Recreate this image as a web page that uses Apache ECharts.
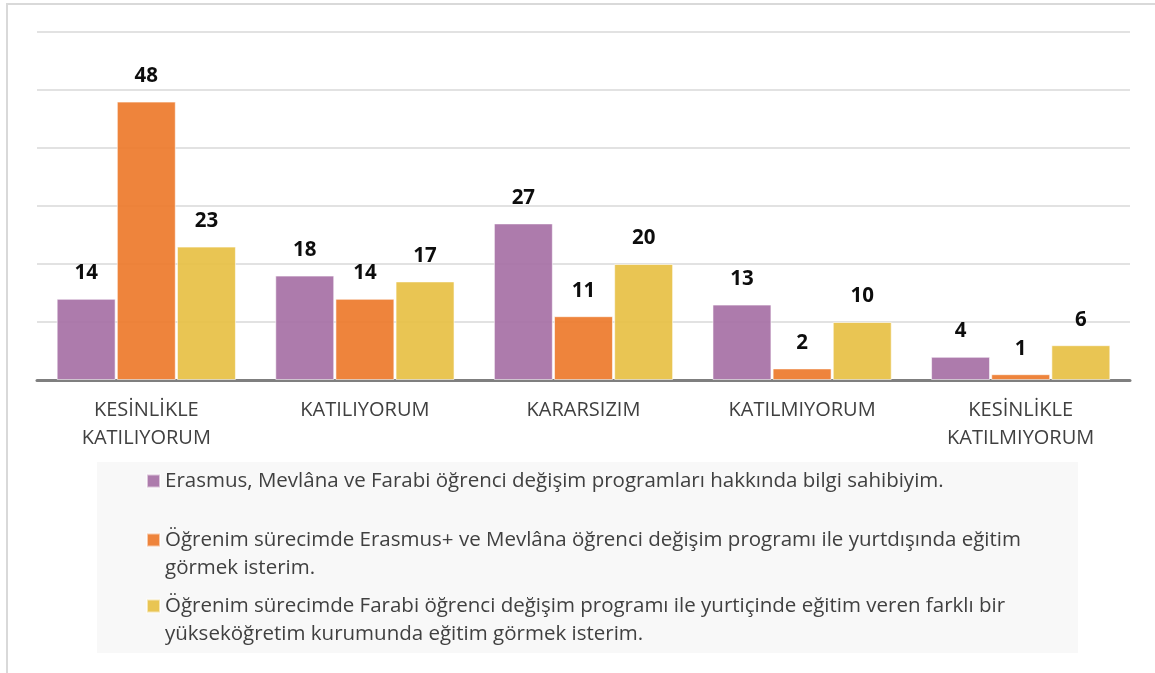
<!DOCTYPE html>
<html><head><meta charset="utf-8">
<script src="https://cdn.jsdelivr.net/npm/echarts@6/dist/echarts.min.js"></script>
<style>html,body{margin:0;padding:0;background:#fff}#c{width:1155px;height:673px}</style>
</head><body><div id="c"></div>
<script>
const categories = ['KESİNLİKLE\nKATILIYORUM', 'KATILIYORUM', 'KARARSIZIM', 'KATILMIYORUM', 'KESİNLİKLE\nKATILMIYORUM'];
const seriesNames = [
  'Erasmus, Mevlâna ve Farabi öğrenci değişim programları hakkında bilgi sahibiyim.',
  'Öğrenim sürecimde Erasmus+ ve Mevlâna öğrenci değişim programı ile yurtdışında eğitim görmek isterim.',
  'Öğrenim sürecimde Farabi öğrenci değişim programı ile yurtiçinde eğitim veren farklı bir yükseköğretim kurumunda eğitim görmek isterim.'
];
const legendLines = [
  ['Erasmus, Mevlâna ve Farabi öğrenci değişim programları hakkında bilgi sahibiyim.'],
  ['Öğrenim sürecimde Erasmus+ ve Mevlâna öğrenci değişim programı ile yurtdışında eğitim', 'görmek isterim.'],
  ['Öğrenim sürecimde Farabi öğrenci değişim programı ile yurtiçinde eğitim veren farklı bir', 'yükseköğretim kurumunda eğitim görmek isterim.']
];
const values1 = [14, 18, 27, 13, 4];
const values2 = [48, 14, 11, 2, 1];
const values3 = [23, 17, 20, 10, 6];
const colors = ['#A974A8', '#ED7D31', '#E8C24A'];
const yTicks = [0, 10, 20, 30, 40, 50, 60];

const font = '"Open Sans", "Noto Sans", sans-serif';
const chart = echarts.init(document.getElementById('c'));
const allValues = [values1, values2, values3];
const legendTops = [467, 498, 564];
chart.setOption({
  animation: false,
  textStyle: { fontFamily: font },
  graphic: [
    { type: 'rect', z: -10, shape: { x: 7, y: 4, width: 1300, height: 800 }, style: { fill: 'none', stroke: '#d9d9d9', lineWidth: 2 } },
    { type: 'rect', z: -9, shape: { x: 97, y: 462, width: 981, height: 191 }, style: { fill: '#f8f8f8' } }
  ],
  grid: { left: 37, right: 25, top: 32, bottom: 293 },
  xAxis: {
    type: 'category', data: categories,
    axisLine: { lineStyle: { color: '#7f7f7f', width: 3 } },
    axisTick: { show: false },
    axisLabel: { color: '#404040', fontSize: 20, lineHeight: 28, margin: 16, fontFamily: font }
  },
  yAxis: {
    type: 'value', min: yTicks[0], max: yTicks[yTicks.length - 1], interval: 10,
    axisLabel: { show: false }, axisLine: { show: false }, axisTick: { show: false },
    splitLine: { lineStyle: { color: '#d9d9d9', width: 1.5 } }
  },
  legend: seriesNames.map((n, i) => ({
    data: [n], left: 146, top: legendTops[i], orient: 'vertical', padding: 0,
    itemWidth: 13, itemHeight: 13, itemGap: 0, icon: 'rect',
    formatter: () => (legendLines[i].length > 1 ? '\n' : '') + legendLines[i].join('\n'),
    textStyle: { color: '#404040', fontSize: 20.5, lineHeight: 28, fontFamily: font }
  })),
  series: seriesNames.map((n, i) => ({
    name: n, type: 'bar', data: allValues[i],
    barGap: '2%', barCategoryGap: '18%',
    itemStyle: { color: colors[i], opacity: 0.95, borderColor: 'rgba(255,255,255,0.6)', borderWidth: 1 },
    label: { show: true, position: 'top', distance: 15, color: '#000', fontWeight: 'bold', fontSize: 20.5, fontFamily: font }
  }))
});
</script></body></html>
